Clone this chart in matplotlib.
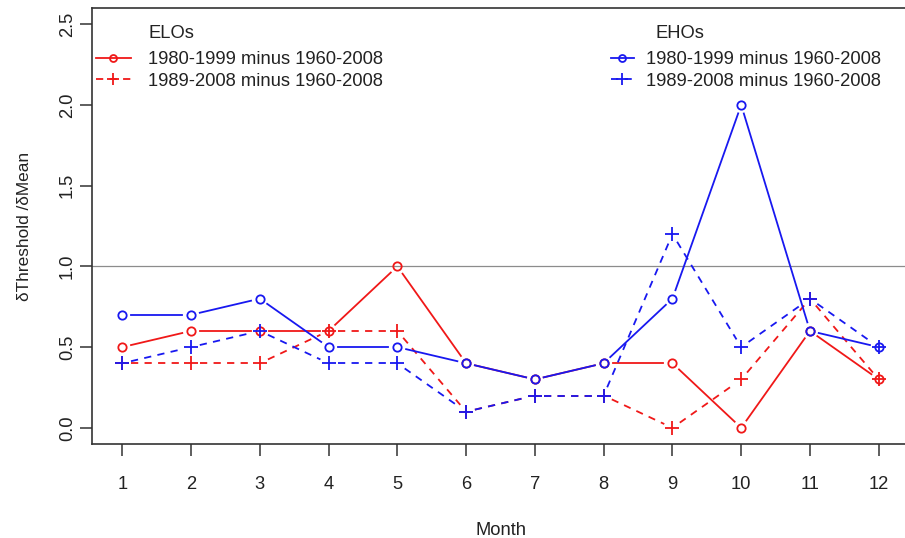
import matplotlib
matplotlib.use("Agg")
import numpy as np
import matplotlib.pyplot as plt
from matplotlib.lines import Line2D

plt.rcParams["font.family"] = ["Liberation Sans", "DejaVu Sans"]
plt.rcParams["font.size"] = 13.2

months = list(range(1, 13))
elo_8099 = [0.5, 0.6, 0.6, 0.6, 1.0, 0.4, 0.3, 0.4, 0.4, 0.0, 0.6, 0.3]
elo_8908 = [0.4, 0.4, 0.4, 0.6, 0.6, 0.1, 0.2, 0.2, 0.0, 0.3, 0.8, 0.3]
eho_8099 = [0.7, 0.7, 0.8, 0.5, 0.5, 0.4, 0.3, 0.4, 0.8, 2.0, 0.6, 0.5]
eho_8908 = [0.4, 0.5, 0.6, 0.4, 0.4, 0.1, 0.2, 0.2, 1.2, 0.5, 0.8, 0.5]
yticks = [0.0, 0.5, 1.0, 1.5, 2.0, 2.5]
label_8099 = "1980-1999 minus 1960-2008"
label_8908 = "1989-2008 minus 1960-2008"

RED = "#f01818"
BLUE = "#1818f0"
TXT = "#222222"
DASH = (0, (4, 3.5))
LW = 1.3
FS = 13.2

fig = plt.figure(figsize=(9.05, 5.38), dpi=100)
ax = fig.add_axes([92 / 905, 94 / 538, 817 / 905, 436 / 538])
ax.set_xlim(0.56, 12.44)
ax.set_ylim(-0.1, 2.6)


def draw_b(ax, x, y, color, marker, ls, ms, gap=9):
    # R type="b": segments stop short of the points (gap in pixels)
    pts = ax.transData.transform(np.column_stack([x, y]))
    inv = ax.transData.inverted()
    for p0, p1 in zip(pts[:-1], pts[1:]):
        d = np.hypot(*(p1 - p0))
        if d <= 2 * gap:
            continue
        u = (p1 - p0) / d
        seg = inv.transform([p0 + u * gap, p1 - u * gap])
        ax.plot(seg[:, 0], seg[:, 1], color=color, lw=LW, linestyle=ls)
    ax.plot(x, y, linestyle="none", marker=marker, ms=ms,
            mfc="none", mec=color, mew=LW, zorder=4)


ax.axhline(1.0, color="#8c8c8c", lw=0.9, zorder=1)

draw_b(ax, months, elo_8099, RED, "o", "-", 6)
draw_b(ax, months, elo_8908, RED, "+", DASH, 10)
draw_b(ax, months, eho_8099, BLUE, "o", "-", 6)
draw_b(ax, months, eho_8908, BLUE, "+", DASH, 10)

ax.set_xticks(months)
ax.set_yticks(yticks)
ax.set_yticklabels([f"{v:.1f}" for v in yticks], rotation=90, va="center")
ax.tick_params(axis="both", length=8.5, width=1.1, color="#333333",
               labelsize=FS, labelcolor=TXT)
ax.tick_params(axis="x", pad=14.5)
ax.tick_params(axis="y", pad=3)
for s in ax.spines.values():
    s.set_color("#333333")
    s.set_linewidth(1.2)

ax.set_xlabel("Month", fontsize=FS, labelpad=21, color=TXT)
ax.set_ylabel("\u03b4Threshold /\u03b4Mean", fontsize=12.4, color=TXT)
ax.yaxis.set_label_coords(-0.073, 0.5)


def make_legend(color, anchor, hlen, gap):
    handles = [
        Line2D([], [], color=color, lw=LW, marker="o", ms=5, mfc="none", mew=LW),
        Line2D([], [], color=color, lw=LW, linestyle=DASH, marker="+", ms=9, mew=LW),
    ]
    leg = fig.legend(
        handles,
        [label_8099, label_8908],
        loc="upper left",
        bbox_to_anchor=anchor,
        frameon=False,
        fontsize=FS,
        handlelength=hlen,
        handletextpad=gap,
        labelspacing=0.26,
        borderpad=0,
        borderaxespad=0,
    )
    for t in leg.get_texts():
        t.set_color(TXT)
    return leg


leg1 = make_legend(RED, (96 / 905, 1 - 51 / 538), 1.9, 0.93)
leg2 = make_legend(BLUE, (611 / 905, 1 - 51 / 538), 1.25, 0.65)
fig.text(148 / 905, 1 - 33 / 538, "ELOs", fontsize=FS, color=TXT, va="center")
fig.text(655 / 905, 1 - 33 / 538, "EHOs", fontsize=FS, color=TXT, va="center")

fig.savefig("out.png", dpi=100)
